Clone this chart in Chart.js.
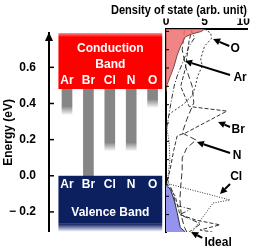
<!DOCTYPE html>
<html><head><meta charset="utf-8">
<script src="https://cdn.jsdelivr.net/npm/chart.js@4.4.1/dist/chart.umd.min.js"></script>
<style>
html,body{margin:0;padding:0;background:#fff;}
#wrap{position:relative;width:259px;height:252px;overflow:hidden;background:#fff;}
#left{position:absolute;left:0;top:0;}
#right{position:absolute;left:111px;top:0;}
</style></head><body>
<div id="wrap"><canvas id="left" width="166" height="252"></canvas><canvas id="right" width="148" height="252"></canvas></div>
<script>
// ---------- data ----------
const dopants = ['Ar', 'Br', 'Cl', 'N', 'O'];
const gapStateTop = [0.48, 0.48, 0.48, 0.48, 0.48];
const gapStateBottom = [0.34, 0.0, 0.14, 0.14, 0.38];
const conductionBand = [0.48, 0.79];
const valenceBand = [-0.31, 0.0];
const energyTickValues = [-0.2, 0, 0.2, 0.4, 0.6];
const dosTickValues = [0, 5, 10];
const dosEnergyTicks = [-0.2, -0.1, 0, 0.1, 0.2, 0.3, 0.4, 0.5, 0.6, 0.7, 0.8];

const idealCbEnergy = [0.813, 0.80, 0.785, 0.77, 0.72, 0.67, 0.61, 0.56, 0.51, 0.47];
const idealCbDos    = [5.0, 4.6, 3.3, 2.5, 1.9, 1.45, 1.05, 0.6, 0.15, 0.0];
const idealVbEnergy = [-0.035, -0.065, -0.12, -0.19, -0.27, -0.295];
const idealVbDos    = [0.0, 0.6, 1.05, 1.45, 1.85, 2.5];

const arEnergy = [0.813, 0.765, 0.72, 0.65, 0.556, 0.50, 0.40, 0.30, 0.25, 0.1, 0.0, -0.08, -0.15, -0.17, -0.20, -0.25, -0.295];
const arDos    = [3.2, 3.7, 3.0, 2.35, 1.45, 1.05, 0.6, 0.2, 0.0, null, 0.1, 0.9, 1.3, 3.2, 1.8, 4.5, 3.0];

const brEnergy = [0.813, 0.75, 0.595, 0.50, 0.39, 0.365, 0.245, 0.23, 0.15, 0.04, -0.03, -0.10, -0.20, -0.23, -0.256, -0.284, -0.295];
const brDos    = [3.4, 3.0, 2.5, 1.9, 3.0, 7.9, 2.5, 1.45, 1.0, 0.5, 0.1, 1.2, 1.8, 3.9, 7.0, 4.4, 6.0];

const clEnergy = [0.30, 0.20, 0.10, 0.02, -0.03, -0.12, -0.137, -0.27, -0.295];
const clDos    = [0.0, 0.4, 0.5, 0.3, 0.1, 8.3, 6.1, 3.8, 3.4];

const nEnergy = [0.813, 0.70, 0.60, 0.50, 0.41, 0.32, 0.245, 0.207, 0.164, 0.11, 0.044, -0.05, -0.12, -0.21, -0.27, -0.295];
const nDos    = [2.4, 2.1, 2.6, 3.4, 3.6, 2.7, 2.1, 3.9, 2.7, 2.1, 2.1, 1.9, 1.8, 2.0, 2.4, 2.7];

const oEnergy = [0.813, 0.79, 0.76, 0.72, 0.65, 0.61, 0.556, 0.50, 0.45, 0.40, 0.36, 0.33];
const oDos    = [5.0, 5.8, 5.9, 5.0, 4.5, 4.7, 4.1, 3.8, 3.4, 2.2, 0.8, 0.0];

const noteNames    = ['O', 'Ar', 'Br', 'N', 'Cl', 'Ideal'];
const noteDos      = [8.96, 9.6, 9.35, 9.2, 9.1, 6.75];
const noteEnergy   = [0.704, 0.546, 0.262, 0.12, 0.005, -0.355];
const arrowFromDos = [8.2, 8.3, 8.3, 8.3, 8.3, 4.7];
const arrowFromE   = [0.72, 0.562, 0.278, 0.136, -0.033, -0.327];
const arrowToDos   = [6.1, 2.47, 6.75, 4.0, 7.0, 3.25];
const arrowToE     = [0.758, 0.638, 0.306, 0.196, -0.087, -0.295];

// ---------- helpers ----------
const FAMILY = '"Liberation Sans", Arial, sans-serif';
Chart.defaults.font.family = FAMILY;
Chart.defaults.color = '#000';
const GRAY = '#868686';
const NAVY = '#0c1f5f';
const pts = (es, ds) => es.map((e, i) => ({ x: ds[i] === null ? null : ds[i], y: e }));

// ---------- left panel ----------
const leftDecor = {
  id: 'leftDecor',
  afterDatasetsDraw(chart) {
    const { ctx, chartArea: a, scales: { x, y } } = chart;
    ctx.save();
    dopants.forEach((d, i) => {
      if (gapStateBottom[i] <= valenceBand[1]) return;
      const px = x.getPixelForValue(i);
      const pb = y.getPixelForValue(gapStateBottom[i]);
      const g = ctx.createLinearGradient(0, pb - 8, 0, pb + 1);
      g.addColorStop(0, 'rgba(255,255,255,0)');
      g.addColorStop(1, 'rgba(255,255,255,1)');
      ctx.fillStyle = g;
      ctx.fillRect(px - 6, pb - 8, 12, 9);
    });
    const bx0 = x.getPixelForValue(-0.4), bx1 = x.getPixelForValue(dopants.length - 1 + 0.45);
    const w = bx1 - bx0;
    const cTop = y.getPixelForValue(conductionBand[1]), cBot = y.getPixelForValue(conductionBand[0]);
    let g = ctx.createLinearGradient(0, cTop, 0, cTop + 4);
    g.addColorStop(0, '#ff9090'); g.addColorStop(1, '#ff0000');
    ctx.fillStyle = g;
    ctx.fillRect(bx0, cTop, w, cBot - cTop);
    const vTop = y.getPixelForValue(valenceBand[1]), vBot = y.getPixelForValue(valenceBand[0]);
    ctx.fillStyle = NAVY;
    ctx.fillRect(bx0, vTop, w, vBot - vTop - 8);
    g = ctx.createLinearGradient(0, vBot - 8, 0, vBot);
    g.addColorStop(0, NAVY); g.addColorStop(1, 'rgba(12,31,95,0)');
    ctx.fillStyle = g;
    ctx.fillRect(bx0, vBot - 8, w, 8);
    ctx.fillStyle = '#fff';
    ctx.textAlign = 'center'; ctx.textBaseline = 'middle';
    ctx.font = 'bold 12px ' + FAMILY;
    const cx = (bx0 + bx1) / 2;
    ctx.fillText('Conduction', cx, cBot - 40);
    ctx.fillText('Band', cx, cBot - 24);
    ctx.fillText('Valence Band', cx, vTop + 37);
    dopants.forEach((d, i) => {
      const px = x.getPixelForValue(i);
      ctx.fillText(d, px, cBot - 8);
      ctx.fillText(d, px, vTop + 9);
    });
    ctx.fillStyle = '#000';
    ctx.beginPath();
    ctx.moveTo(a.left, a.top - 1);
    ctx.lineTo(a.left - 4, a.top + 8);
    ctx.lineTo(a.left + 4, a.top + 8);
    ctx.closePath(); ctx.fill();
    energyTickValues.forEach(v => {
      const py = y.getPixelForValue(v);
      ctx.fillRect(a.left, py - 0.75, 5, 1.5);
    });
    ctx.restore();
  }
};

new Chart(document.getElementById('left'), {
  type: 'bar',
  data: {
    datasets: [{
      data: dopants.map((d, i) => ({ x: i, y: [gapStateBottom[i], gapStateTop[i]] })),
      backgroundColor: GRAY,
      borderWidth: 0,
      barThickness: 10
    }]
  },
  options: {
    responsive: false, animation: false, devicePixelRatio: 1,
    layout: { padding: { top: 33, bottom: 17, left: 0, right: 0 } },
    plugins: { legend: { display: false }, tooltip: { enabled: false } },
    scales: {
      x: { type: 'linear', min: -0.841, max: 4.626, offset: false, bounds: 'data', display: false,
           afterBuildTicks: s => { s.ticks = [{ value: -0.841 }, { value: 4.626 }]; } },
      y: {
        min: valenceBand[0], max: conductionBand[1],
        afterBuildTicks: s => { s.ticks = energyTickValues.map(v => ({ value: v })); },
        afterFit: s => { s.width = 49; },
        grid: { display: false, drawTicks: false },
        border: { display: true, color: '#000', width: 2 },
        ticks: {
          padding: 13, color: '#000',
          font: { size: 12, weight: 'bold' },
          callback: v => v < 0 ? '\u2212 ' + Math.abs(v).toFixed(1) : v.toFixed(1)
        },
        title: { display: true, text: 'Energy (eV)', color: '#000', font: { size: 12, weight: 'bold' }, padding: { top: 1, bottom: 0 } }
      }
    }
  },
  plugins: [leftDecor]
});

// ---------- right panel ----------
const rightDecor = {
  id: 'rightDecor',
  afterDraw(chart) {
    const { ctx, chartArea: a, scales: { x, y } } = chart;
    ctx.save();
    ctx.fillStyle = '#000';
    dosEnergyTicks.forEach(v => {
      const py = y.getPixelForValue(v);
      ctx.fillRect(a.left, py - 0.5, 3, 1);
    });
    ctx.strokeStyle = '#000';
    ctx.lineWidth = 2;
    ctx.font = 'bold 12px ' + FAMILY;
    ctx.textAlign = 'center'; ctx.textBaseline = 'middle';
    noteNames.forEach((n, i) => {
      const x0 = x.getPixelForValue(arrowFromDos[i]), y0 = y.getPixelForValue(arrowFromE[i]);
      const x1 = x.getPixelForValue(arrowToDos[i]), y1 = y.getPixelForValue(arrowToE[i]);
      const ang = Math.atan2(y1 - y0, x1 - x0);
      const hl = 7, hw = 3.5;
      const bxp = x1 - hl * Math.cos(ang), byp = y1 - hl * Math.sin(ang);
      ctx.beginPath(); ctx.moveTo(x0, y0); ctx.lineTo(bxp, byp); ctx.stroke();
      ctx.beginPath();
      ctx.moveTo(x1, y1);
      ctx.lineTo(bxp + hw * Math.sin(ang), byp - hw * Math.cos(ang));
      ctx.lineTo(bxp - hw * Math.sin(ang), byp + hw * Math.cos(ang));
      ctx.closePath(); ctx.fill();
      ctx.fillText(n, x.getPixelForValue(noteDos[i]), y.getPixelForValue(noteEnergy[i]));
    });
    ctx.restore();
  }
};

const lineBase = { borderColor: '#333', borderWidth: 1, pointRadius: 0, fill: false, tension: 0, spanGaps: false };
new Chart(document.getElementById('right'), {
  type: 'line',
  data: {
    datasets: [
      { ...lineBase, data: pts(idealCbEnergy, idealCbDos), fill: 'origin', backgroundColor: 'rgba(238,110,110,0.85)', borderColor: '#7a4a4a' },
      { ...lineBase, data: pts(idealVbEnergy, idealVbDos), fill: 'origin', backgroundColor: '#9494ee', borderColor: '#333' },
      { ...lineBase, data: pts(arEnergy, arDos), borderDash: [5, 2, 1, 2] },
      { ...lineBase, data: pts(brEnergy, brDos), borderDash: [4, 2] },
      { ...lineBase, data: pts(clEnergy, clDos), borderDash: [1, 1.5] },
      { ...lineBase, data: pts(nEnergy, nDos), borderDash: [6, 3] },
      { ...lineBase, data: pts(oEnergy, oDos), borderDash: [2, 2] }
    ]
  },
  options: {
    indexAxis: 'y',
    responsive: false, animation: false, devicePixelRatio: 1,
    layout: { padding: { top: 0, bottom: 20, left: 0, right: 12 } },
    plugins: {
      legend: { display: false }, tooltip: { enabled: false },
      title: { display: true, text: 'Density of state (arb. unit)', color: '#000', font: { size: 12, weight: 'bold' }, padding: { top: 3, bottom: 1 } }
    },
    scales: {
      x: {
        type: 'linear', position: 'top', min: 0, max: 10.5,
        afterBuildTicks: s => { s.ticks = dosTickValues.map(v => ({ value: v })); },
        afterFit: s => { s.height = 10.6; },
        grid: { display: false, drawTicks: false },
        border: { display: true, color: '#000', width: 2 },
        ticks: { padding: 0, color: '#000', font: { size: 12, weight: 'bold' }, maxRotation: 0, autoSkip: false },
        z: 1
      },
      y: {
        type: 'linear', min: -0.295, max: 0.813,
        afterFit: s => { s.width = 55; },
        grid: { display: false, drawTicks: false },
        border: { display: true, color: '#000', width: 2 },
        ticks: { display: false },
        z: 1
      }
    }
  },
  plugins: [rightDecor]
});
</script>
</body></html>
